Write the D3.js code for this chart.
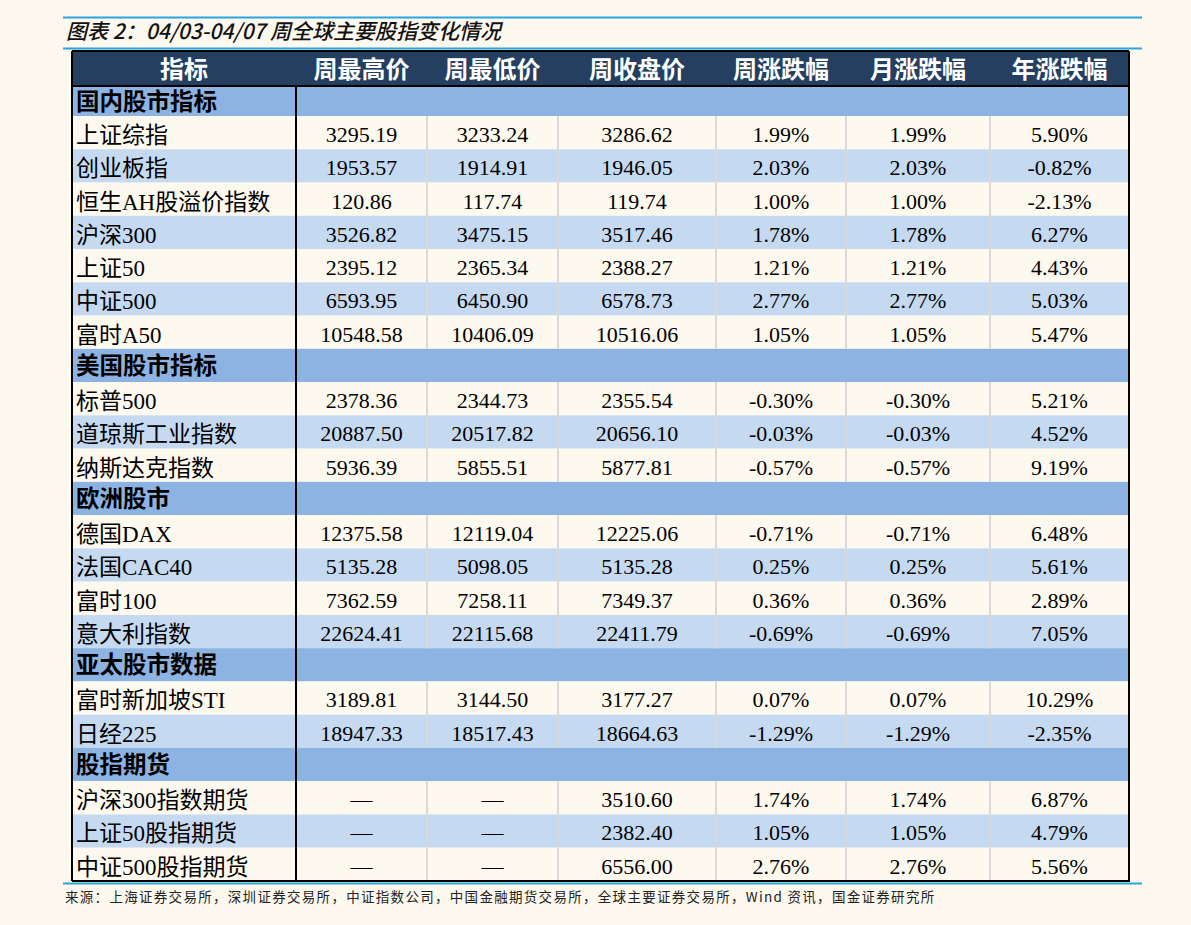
<!DOCTYPE html>
<html><head><meta charset="utf-8">
<script src="https://cdn.jsdelivr.net/npm/d3@7"></script>
<style>
html,body{margin:0;padding:0;background:#fdf9ef;}
svg{display:block;}
</style></head>
<body>
<svg id="chart" width="1191" height="925"></svg>
<script>
// ---------------- data ----------------
const titleText = "图表 2：04/03-04/07 周全球主要股指变化情况";
const sourceText = "来源：上海证券交易所，深圳证券交易所，中证指数公司，中国金融期货交易所，全球主要证券交易所，Wind 资讯，国金证券研究所";
const headers = ["指标","周最高价","周最低价","周收盘价","周涨跌幅","月涨跌幅","年涨跌幅"];
const sections = ["国内股市指标","美国股市指标","欧洲股市","亚太股市数据","股指期货"];
const names = ["上证综指","创业板指","恒生AH股溢价指数","沪深300","上证50","中证500","富时A50",
  "标普500","道琼斯工业指数","纳斯达克指数",
  "德国DAX","法国CAC40","富时100","意大利指数",
  "富时新加坡STI","日经225",
  "沪深300指数期货","上证50股指期货","中证500股指期货"];
const sectionOf = [0,0,0,0,0,0,0,1,1,1,2,2,2,2,3,3,4,4,4];
const weekHigh = [3295.19,1953.57,120.86,3526.82,2395.12,6593.95,10548.58,2378.36,20887.50,5936.39,12375.58,5135.28,7362.59,22624.41,3189.81,18947.33,null,null,null];
const weekLow = [3233.24,1914.91,117.74,3475.15,2365.34,6450.90,10406.09,2344.73,20517.82,5855.51,12119.04,5098.05,7258.11,22115.68,3144.50,18517.43,null,null,null];
const weekClose = [3286.62,1946.05,119.74,3517.46,2388.27,6578.73,10516.06,2355.54,20656.10,5877.81,12225.06,5135.28,7349.37,22411.79,3177.27,18664.63,3510.60,2382.40,6556.00];
const weekChg = [1.99,2.03,1.00,1.78,1.21,2.77,1.05,-0.30,-0.03,-0.57,-0.71,0.25,0.36,-0.69,0.07,-1.29,1.74,1.05,2.76];
const monthChg = [1.99,2.03,1.00,1.78,1.21,2.77,1.05,-0.30,-0.03,-0.57,-0.71,0.25,0.36,-0.69,0.07,-1.29,1.74,1.05,2.76];
const yearChg = [5.90,-0.82,-2.13,6.27,4.43,5.03,5.47,5.21,4.52,9.19,6.48,5.61,2.89,7.05,10.29,-2.35,6.87,4.79,5.56];

// ---------------- layout ----------------
const svg = d3.select("#chart");
const colEdges = [72,296,427,558,716,846,990,1129];
const tableTop = 51, headBottom = 86, firstRowTop = 87, firstRowBottom = 116, tableBottom = 881;
const C = {bg:"#fdf9ef", navy:"#243f60", sec:"#8db3e2", alt:"#c5d9f1", rule:"#29a6df", grid:"#d9d9d9"};

// build rows
const rows = [];
sections.forEach((s,si)=>{
  rows.push({type:"section", label:s});
  let k=0;
  names.forEach((n,i)=>{ if(sectionOf[i]===si){ rows.push({type:"data", i, alt:k%2===1}); k++; } });
});
const yScale = d3.scaleLinear().domain([1, rows.length]).range([firstRowBottom, tableBottom]);
function rowTop(r){ return r===0 ? firstRowTop : yScale(r); }
function rowBot(r){ return r===0 ? firstRowBottom : yScale(r+1); }

const loc = d3.formatLocale({decimal:".", thousands:",", grouping:[3], currency:["",""], minus:"-"});
const fmtN = loc.format(".2f");
const fmtP = v => loc.format(".2f")(v) + "%";
const cols = [
  i => names[i],
  i => weekHigh[i]==null ? "—" : fmtN(weekHigh[i]),
  i => weekLow[i]==null ? "—" : fmtN(weekLow[i]),
  i => fmtN(weekClose[i]),
  i => fmtP(weekChg[i]),
  i => fmtP(monthChg[i]),
  i => fmtP(yearChg[i])
];

// title rules
svg.append("line").attr("x1",63).attr("x2",1142).attr("y1",17.5).attr("y2",17.5).attr("stroke",C.rule).attr("stroke-width",2);
svg.append("line").attr("x1",63).attr("x2",1142).attr("y1",48.5).attr("y2",48.5).attr("stroke",C.rule).attr("stroke-width",2);
svg.append("text").attr("x",66).attr("y",39).text(titleText)
  .attr("font-family","'Noto Sans CJK SC', sans-serif").attr("font-style","italic").attr("font-weight",500)
  .attr("font-size",21).attr("fill","#111");

// header
svg.append("rect").attr("x",colEdges[0]).attr("y",tableTop).attr("width",colEdges[7]-colEdges[0]).attr("height",headBottom-tableTop).attr("fill",C.navy);
svg.selectAll("text.h").data(headers).join("text").attr("class","h")
  .attr("x",(d,j)=>(colEdges[j]+colEdges[j+1])/2).attr("y",78)
  .attr("text-anchor","middle").attr("fill","#fff").attr("font-weight",700)
  .attr("font-family","'Noto Sans CJK SC', sans-serif").attr("font-size",24).text(d=>d);

// row backgrounds
const g = svg.append("g");
g.selectAll("rect.row").data(rows).join("rect").attr("class","row")
  .attr("x",colEdges[0]).attr("width",colEdges[7]-colEdges[0])
  .attr("y",(d,r)=>rowTop(r)).attr("height",(d,r)=>rowBot(r)-rowTop(r))
  .attr("fill",d=>d.type==="section"?C.sec:(d.alt?C.alt:C.bg));

// grid lines in data rows
rows.forEach((d,r)=>{
  if(d.type!=="data") return;
  [2,3,4,5,6].forEach(j=>{
    g.append("line").attr("x1",colEdges[j]).attr("x2",colEdges[j]).attr("y1",rowTop(r)).attr("y2",rowBot(r))
      .attr("stroke",C.grid).attr("stroke-width",2);
  });
});

// section labels
rows.forEach((d,r)=>{
  if(d.type!=="section") return;
  g.append("text").attr("x",76).attr("y",(rowTop(r)+rowBot(r))/2+8.5).text(d.label)
    .attr("font-family","'Noto Sans CJK SC', sans-serif").attr("font-weight",700).attr("font-size",23.5).attr("fill","#000");
});

// data cells
rows.forEach((d,r)=>{
  if(d.type!=="data") return;
  const yb = rowTop(r)+26;
  cols.forEach((f,j)=>{
    const t = f(d.i);
    const txt = g.append("text").text(t).attr("fill","#000");
    if(j===0){
      txt.attr("x",76).attr("y",yb+1).attr("font-family","'Liberation Serif','Noto Sans CJK SC', serif").attr("font-size",23);
    } else {
      txt.attr("x",(colEdges[j]+colEdges[j+1])/2).attr("y",yb).attr("text-anchor","middle")
        .attr("font-family","'Liberation Serif', serif").attr("font-size",22);
    }
  });
});

// borders
const B = svg.append("g").attr("stroke","#000").attr("stroke-width",2);
B.append("line").attr("x1",colEdges[0]).attr("x2",colEdges[7]).attr("y1",tableTop).attr("y2",tableTop);
B.append("line").attr("x1",colEdges[0]).attr("x2",colEdges[7]).attr("y1",headBottom).attr("y2",headBottom);
B.append("line").attr("x1",colEdges[0]).attr("x2",colEdges[7]).attr("y1",tableBottom).attr("y2",tableBottom);
B.append("line").attr("x1",colEdges[0]).attr("x2",colEdges[0]).attr("y1",tableTop).attr("y2",tableBottom);
B.append("line").attr("x1",colEdges[7]).attr("x2",colEdges[7]).attr("y1",tableTop).attr("y2",tableBottom+1);
B.append("line").attr("x1",colEdges[1]).attr("x2",colEdges[1]).attr("y1",headBottom).attr("y2",tableBottom);

// bottom rule & source
svg.append("line").attr("x1",63).attr("x2",1142).attr("y1",883.5).attr("y2",883.5).attr("stroke",C.rule).attr("stroke-width",2);
svg.append("text").attr("x",65).attr("y",902).text(sourceText)
  .attr("font-family","'Noto Sans CJK SC', sans-serif").attr("font-size",13.5).attr("letter-spacing",1.3).attr("fill","#222");
</script>
</body></html>
